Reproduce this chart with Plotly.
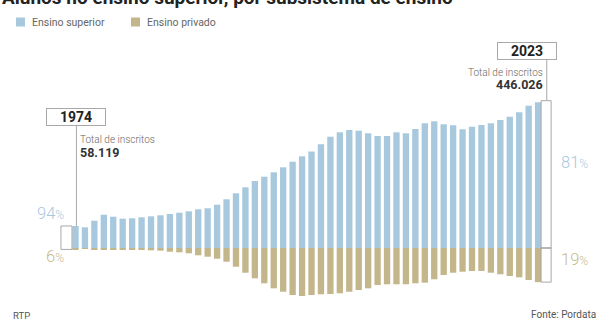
import plotly.graph_objects as go

# ---- data (thousands of students) ----
years = list(range(1974, 2024))
publico = [54.6, 51.3, 67.7, 82.6, 77.6, 72.7, 73.7, 76.1, 78.6, 81.1,
           84.3, 87.5, 91.0, 96.0, 98.5, 107.4, 120.8, 135.7, 150.5, 166.2,
           176.8, 187.7, 200.1, 214.0, 227.4, 239.3, 257.4, 276.0, 286.9, 292.6,
           290.9, 284.5, 277.8, 277.8, 286.9, 284.5, 295.1, 309.3, 314.2, 306.8,
           304.3, 294.4, 300.8, 305.0, 309.3, 317.4, 325.6, 336.5, 352.9, 361.3]
privado = [3.5, 2.0, 2.5, 2.5, 2.5, 3.3, 4.1, 5.0, 5.7, 6.6,
           9.2, 10.7, 13.2, 18.1, 21.6, 26.5, 34.0, 46.4, 61.3, 75.2,
           87.6, 100.0, 108.4, 116.6, 119.0, 116.6, 114.8, 114.1, 112.4, 108.4,
           104.2, 100.0, 91.8, 90.0, 90.0, 90.0, 87.5, 86.0, 77.6, 66.9,
           61.3, 58.8, 57.0, 57.0, 61.3, 65.2, 69.4, 72.7, 79.4, 84.7]
series_names = ["Ensino superior", "Ensino privado"]
total_labels = {1974: "58.119", 2023: "446.026"}

BLUE = "#a8c8de"
TAN = "#c4b68b"
BLUE_TXT = "#a9c8dd"
TAN_TXT = "#c7b98c"
GRAY_LINE = "#a8a8a8"
FONT = "Roboto"

W, H = 599, 320
ML, MR, MT, MB = 55, 39, 30, 10
PW, PH = W - ML - MR, H - MT - MB

# axis scaling
BASE_PX = 248.0      # pixel row of the zero line
K = 2.48             # thousands per pixel
y_top = (BASE_PX - MT) * K
y_bot = -(H - MB - BASE_PX) * K
x_lo, x_hi = 1974 - 2.17, 1974 + 51.32


def xp(px):
    return (px - ML) / PW


def yp(px):
    return (H - MB - px) / PH


def yv(px):
    return (BASE_PX - px) * K


first, last = years[0], years[-1]
p0, q0 = publico[0], privado[0]
p1, q1 = publico[-1], privado[-1]
share = lambda a, b: round(100 * a / (a + b))

fig = go.Figure()
fig.add_bar(x=years, y=publico, marker_color=BLUE, marker_line_width=0,
            name=series_names[0], showlegend=False)
fig.add_bar(x=years, y=[-v for v in privado], marker_color=TAN,
            marker_line_width=0, name=series_names[1], showlegend=False)

shapes = [
    # 1974 bracket and leader
    dict(type="rect", xref="x", yref="y", x0=first - 1.54, x1=first - 0.37,
         y0=-q0, y1=p0, line=dict(color=GRAY_LINE, width=1),
         fillcolor="white", layer="above"),
    dict(type="line", xref="x", yref="y", x0=first + 0.1, x1=first + 0.1,
         y0=p0, y1=yv(126), line=dict(color=GRAY_LINE, width=1)),
    # 2023 bracket and leader
    dict(type="rect", xref="x", yref="y", x0=last + 0.32, x1=last + 1.38,
         y0=-q1, y1=p1 + 4, line=dict(color=GRAY_LINE, width=1),
         fillcolor="white", layer="above"),
    dict(type="line", xref="x", yref="y", x0=last + 0.32, x1=last + 1.38,
         y0=0, y1=0, line=dict(color="#888888", width=1.2)),
    dict(type="line", xref="x", yref="y", x0=last + 0.92, x1=last + 0.92,
         y0=p1 + 4, y1=yv(60), line=dict(color=GRAY_LINE, width=1)),
    # legend swatches
    dict(type="rect", xref="paper", yref="paper", x0=xp(16), x1=xp(25),
         y0=yp(26.5), y1=yp(17.5), fillcolor=BLUE, line_width=0),
    dict(type="rect", xref="paper", yref="paper", x0=xp(131), x1=xp(140),
         y0=yp(26.5), y1=yp(17.5), fillcolor=TAN, line_width=0),
]

ann = []


def A(text, x, y, size, color, xanchor="left", yanchor="middle", weight=None, **kw):
    f = dict(family=FONT, size=size, color=color)
    if weight:
        f["weight"] = weight
    d = dict(text=text, x=xp(x), y=yp(y), xref="paper", yref="paper",
             showarrow=False, xanchor=xanchor, yanchor=yanchor, font=f)
    d.update(kw)
    ann.append(d)


# title (cut off at the top edge, as in the source image)
A("Alunos no ensino superior, por subsistema de ensino", 0, -2.5, 19,
  "#222222", weight=700)
# legend
A(series_names[0], 30, 22, 10.5, "#666666")
A(series_names[1], 145, 22, 10.5, "#666666")

# year boxes
A(str(first), 76, 117, 14, "#222222", xanchor="center", weight=700,
  bordercolor=GRAY_LINE, borderwidth=1, borderpad=0, width=58, height=16,
  bgcolor="white")
A(str(last), 527, 51.5, 14, "#222222", xanchor="center", weight=700,
  bordercolor=GRAY_LINE, borderwidth=1, borderpad=0, width=58, height=16,
  bgcolor="white")

# totals
A("Total de inscritos", 78, 139, 10, "#666666", weight=300)
A(total_labels[first], 78, 152, 12.5, "#333333", weight=700)
A("Total de inscritos", 545, 72.5, 10, "#666666", xanchor="right", weight=300)
A(total_labels[last], 545, 84, 12.5, "#333333", xanchor="right", weight=700)

# shares
pct = lambda v: f"{v}<span style='font-size:12px'>%</span>"
A(pct(share(p0, q0)), 66, 213, 16.5, BLUE_TXT, xanchor="right", weight=300)
A(pct(share(q0, p0)), 66, 256, 16.5, TAN_TXT, xanchor="right", weight=300)
A(pct(share(p1, q1)), 559, 162, 16.5, BLUE_TXT, weight=300)
A(pct(share(q1, p1)), 559, 259, 16.5, TAN_TXT, weight=300)

# footer
A("RTP", 11, 315, 9.5, "#555555")
A("Fonte: Pordata", 598, 314.5, 10, "#555555", xanchor="right")

fig.update_layout(
    width=W, height=H,
    margin=dict(l=ML, r=MR, t=MT, b=MB, pad=0),
    paper_bgcolor="white", plot_bgcolor="white",
    barmode="relative", bargap=0.33,
    showlegend=False,
    shapes=shapes, annotations=ann,
    font=dict(family=FONT),
    xaxis=dict(range=[x_lo, x_hi], visible=False, fixedrange=True),
    yaxis=dict(range=[y_bot, y_top], visible=False, fixedrange=True,
               zeroline=False),
)

fig.write_html("out.html", config=dict(displayModeBar=False))
